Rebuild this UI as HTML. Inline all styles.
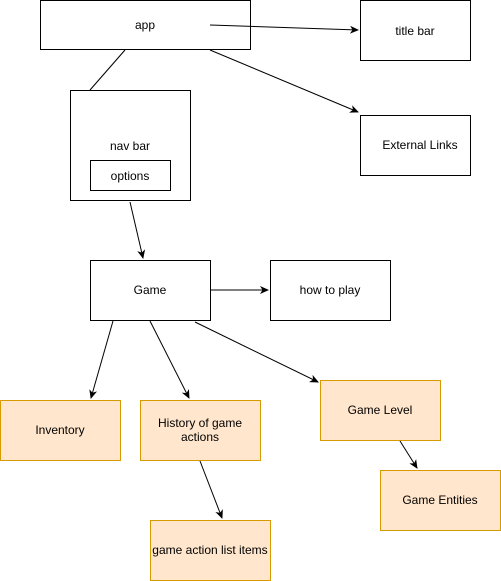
<!DOCTYPE html>
<html><head><style>
body{margin:0;background:#fff;}
svg{display:block;font-family:"Liberation Sans",Helvetica,sans-serif;font-size:12px;}
</style></head><body>
<svg width="501" height="581" viewBox="0 0 501 581" xmlns="http://www.w3.org/2000/svg">
<defs><marker id="a" markerWidth="10" markerHeight="10" refX="8" refY="5" orient="auto" markerUnits="userSpaceOnUse"><path d="M0,1 L9,5 L0,9 L2.5,5 Z" fill="#000"/></marker></defs>
<g fill="#fff" stroke="#000" stroke-width="1">
<rect x="40.5" y="0.5" width="210" height="49"/>
<rect x="360.5" y="0.5" width="110" height="60"/>
<rect x="70.5" y="90.5" width="120" height="110"/>
<rect x="90.5" y="160.5" width="80" height="30"/>
<rect x="360.5" y="115.5" width="110" height="60"/>
<rect x="90.5" y="260.5" width="120" height="60"/>
<rect x="270.5" y="260.5" width="120" height="60"/>
</g>
<g fill="#ffe6cc" stroke="#d79b00" stroke-width="1">
<rect x="0.5" y="400.5" width="120" height="60"/>
<rect x="140.5" y="400.5" width="120" height="60"/>
<rect x="320.5" y="380.5" width="120" height="60"/>
<rect x="380.5" y="470.5" width="120" height="60"/>
<rect x="150.5" y="520.5" width="120" height="60"/>
</g>
<g stroke="#000" stroke-width="1" fill="none">
<line x1="210" y1="25" x2="358" y2="30" marker-end="url(#a)"/>
<line x1="210" y1="50" x2="358" y2="112" marker-end="url(#a)"/>
<line x1="125" y1="50" x2="90" y2="90"/>
<line x1="130" y1="202" x2="143" y2="258" marker-end="url(#a)"/>
<line x1="210" y1="290" x2="268" y2="290" marker-end="url(#a)"/>
<line x1="113" y1="321" x2="91" y2="398" marker-end="url(#a)"/>
<line x1="150" y1="321" x2="189" y2="398" marker-end="url(#a)"/>
<line x1="195" y1="322" x2="318" y2="382" marker-end="url(#a)"/>
<line x1="400" y1="441" x2="417" y2="468" marker-end="url(#a)"/>
<line x1="200" y1="461" x2="222" y2="518" marker-end="url(#a)"/>
</g>
<g text-anchor="middle" fill="#000">
<text x="145" y="29">app</text>
<text x="415" y="35">title bar</text>
<text x="130" y="150">nav bar</text>
<text x="130" y="180">options</text>
<text x="420" y="149">External Links</text>
<text x="150" y="294">Game</text>
<text x="330" y="294">how to play</text>
<text x="60" y="434">Inventory</text>
<text x="200" y="427">History of game</text>
<text x="200" y="441">actions</text>
<text x="380" y="414">Game Level</text>
<text x="440" y="504">Game Entities</text>
<text x="210" y="554">game action list items</text>
</g>
</svg>
</body></html>
